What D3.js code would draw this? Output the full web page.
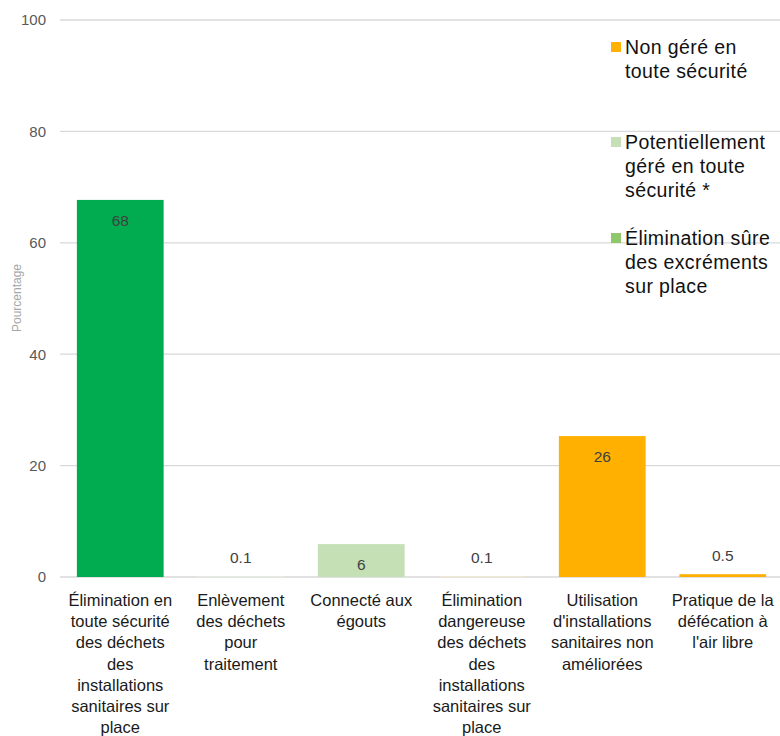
<!DOCTYPE html>
<html><head><meta charset="utf-8">
<script src="https://cdn.jsdelivr.net/npm/d3@7/dist/d3.min.js"></script>
<style>body{margin:0;background:#fff;}svg{display:block;font-family:"Liberation Sans",Arial,sans-serif;}</style>
</head><body><svg id="c" width="780" height="736"></svg>
<script>
const categories = [
  "Élimination en|toute sécurité|des déchets|des|installations|sanitaires sur|place",
  "Enlèvement|des déchets|pour|traitement",
  "Connecté aux|égouts",
  "Élimination|dangereuse|des déchets|des|installations|sanitaires sur|place",
  "Utilisation|d'installations|sanitaires non|améliorées",
  "Pratique de la|défécation à|l'air libre"
];
const values = [67.7, 0.1, 5.9, 0.1, 25.3, 0.5];
const valueLabels = ["68", "0.1", "6", "0.1", "26", "0.5"];
const barColors = ["#00ac4f", "#e6f2df", "#c5e0b4", "#fde9c0", "#ffb000", "#ffb000"];
const yTicks = [0, 20, 40, 60, 80, 100];
const legendItems = ["Non géré en|toute sécurité", "Potentiellement|géré en toute|sécurité *", "Élimination sûre|des excréments|sur place"];
const legendColors = ["#ffb000", "#c5e0b4", "#8fc86b"];
const yTitle = "Pourcentage";

const svg = d3.select("#c");
const x = d3.scaleBand().domain(categories).range([60, 783]).paddingInner(0.28).paddingOuter(0.14);
const y = d3.scaleLinear().domain([0, 100]).range([577, 20]);

// gridlines
svg.append("g").selectAll("line").data(yTicks).join("line")
  .attr("x1", 60).attr("x2", 780)
  .attr("y1", d => y(d)).attr("y2", d => y(d))
  .attr("stroke", "#d9d9d9").attr("stroke-width", 1.3);

// y axis labels
const yAxis = d3.axisLeft(y).tickValues(yTicks).tickSize(0).tickPadding(0).tickFormat(d3.format("d"));
const ga = svg.append("g").attr("transform", "translate(46,0)").call(yAxis);
ga.select(".domain").remove();
ga.selectAll("text").attr("font-size", 15).attr("fill", "#595959").attr("font-family", "Liberation Sans, Arial, sans-serif");

svg.append("text").attr("transform", `translate(21,298) rotate(-90)`)
  .attr("text-anchor", "middle").attr("font-size", 12).attr("fill", "#a6a6a6").text(yTitle);

// bars
svg.append("g").selectAll("rect").data(values).join("rect")
  .attr("x", (d, i) => x(categories[i]))
  .attr("width", x.bandwidth())
  .attr("y", d => y(d))
  .attr("height", d => y(0) - y(d))
  .attr("fill", (d, i) => barColors[i]);

// value labels
svg.append("g").selectAll("text").data(values).join("text")
  .attr("x", (d, i) => x(categories[i]) + x.bandwidth() / 2)
  .attr("y", d => (y(0) - y(d) > 25) ? y(d) + 26 : y(d) - 13)
  .attr("text-anchor", "middle").attr("font-size", 15.5).attr("fill", "#404040")
  .text((d, i) => valueLabels[i]);

// category labels
const cg = svg.append("g");
categories.forEach(c => {
  const t = cg.append("text").attr("text-anchor", "middle").attr("font-size", 16.5).attr("fill", "#1a1a1a");
  c.split("|").forEach((ln, j) => {
    t.append("tspan").attr("x", x(c) + x.bandwidth() / 2).attr("y", 606 + j * 21.2).text(ln);
  });
});

// legend
const legendY = [47, 142, 238];
legendItems.forEach((item, i) => {
  svg.append("rect").attr("x", 611).attr("y", legendY[i] - 5).attr("width", 10).attr("height", 10).attr("fill", legendColors[i]);
  const t = svg.append("text").attr("font-size", 19.5).attr("letter-spacing", 0.4).attr("fill", "#111");
  item.split("|").forEach((ln, j) => {
    t.append("tspan").attr("x", 625).attr("y", legendY[i] + 7 + j * 24).text(ln);
  });
});
</script></body></html>
